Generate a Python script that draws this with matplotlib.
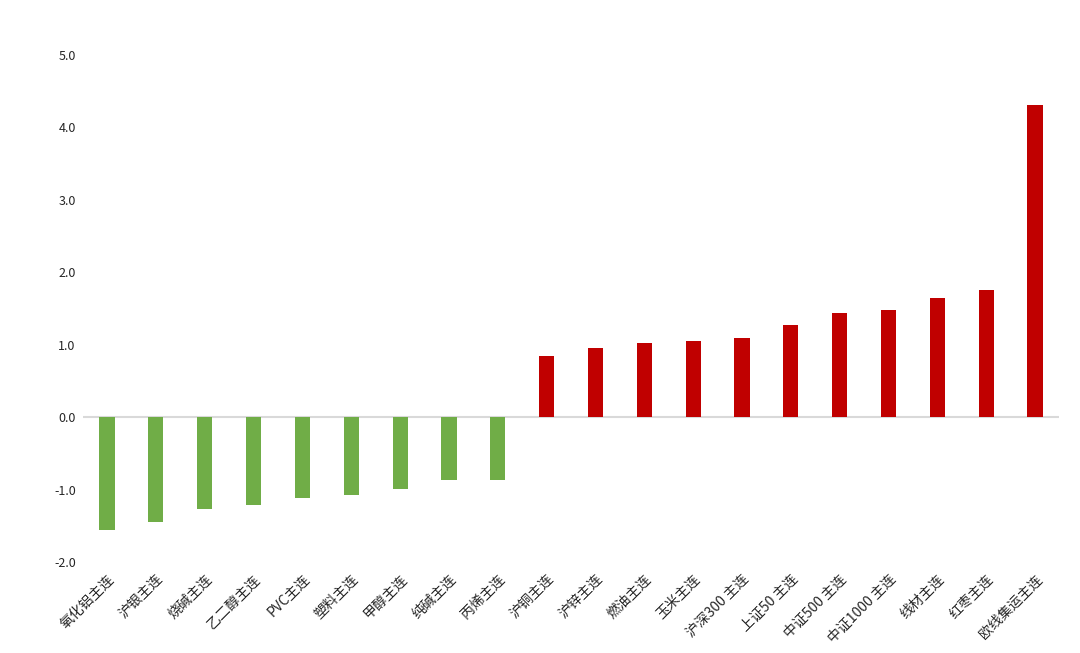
import matplotlib
matplotlib.use("Agg")
import matplotlib.pyplot as plt

categories = ["氧化铝主连", "沪银主连", "烧碱主连", "乙二醇主连", "PVC主连", "塑料主连", "甲醇主连",
              "纯碱主连", "丙烯主连", "沪铜主连", "沪锌主连", "燃油主连", "玉米主连", "沪深300 主连",
              "上证50 主连", "中证500 主连", "中证1000 主连", "线材主连", "红枣主连", "欧线集运主连"]
values = [-1.56, -1.45, -1.26, -1.21, -1.11, -1.07, -0.99, -0.87, -0.86,
          0.84, 0.95, 1.02, 1.05, 1.09, 1.27, 1.44, 1.48, 1.64, 1.76, 4.31]
yticks = [-2.0, -1.0, 0.0, 1.0, 2.0, 3.0, 4.0, 5.0]

plt.rcParams['font.family'] = ['Noto Sans CJK SC', 'DejaVu Sans']

fig = plt.figure(figsize=(10.8, 6.53), dpi=100)
ax = fig.add_axes([0.0765, 0.139, 0.9045, 0.777])

colors = ["#70AD47" if v < 0 else "#C00000" for v in values]
x = list(range(len(categories)))
ax.bar(x, values, width=0.31, color=colors, zorder=2)
ax.axhline(0, color="#D9D9D9", linewidth=1.5, zorder=1)

ax.set_xlim(-0.5, len(categories) - 0.5)
ax.set_ylim(-2.0, 5.0)
ax.set_yticks(yticks)
ax.set_yticklabels([f"{t:.1f}" for t in yticks], fontsize=9, color="#262626")
ax.set_xticks(x)
ax.set_xticklabels(categories, rotation=45, ha="right", va="top", rotation_mode="anchor",
                   fontsize=10, color="#262626")
ax.tick_params(axis="both", length=0)
ax.tick_params(axis="y", pad=5)
ax.tick_params(axis="x", pad=7)
for s in ax.spines.values():
    s.set_visible(False)

fig.savefig("out.png", dpi=100)
